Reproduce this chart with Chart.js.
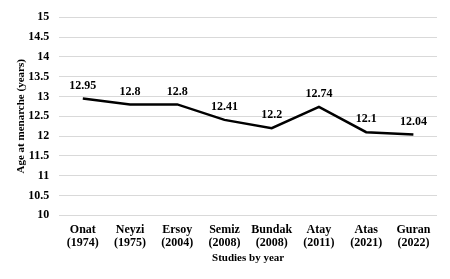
<!DOCTYPE html>
<html>
<head>
<meta charset="utf-8">
<script src="https://cdn.jsdelivr.net/npm/chart.js@4/dist/chart.umd.min.js"></script>
<style>
  html, body { margin: 0; padding: 0; background: #fff; }
  #wrap { width: 450px; height: 279px; }
</style>
</head>
<body>
<div id="wrap"><canvas id="chart"></canvas></div>
<script>
const categories = [['Onat', '(1974)'], ['Neyzi', '(1975)'], ['Ersoy', '(2004)'], ['Semiz', '(2008)'],
  ['Bundak', '(2008)'], ['Atay', '(2011)'], ['Atas', '(2021)'], ['Guran', '(2022)']];
const ages = [12.95, 12.8, 12.8, 12.41, 12.2, 12.74, 12.1, 12.04];
const yMin = 10, yMax = 15, yStep = 0.5;

const FONT = "'Liberation Serif', 'Times New Roman', serif";

// draw the value labels above each point
const valueLabels = {
  id: 'valueLabels',
  afterDatasetsDraw(chart) {
    const ctx = chart.ctx;
    const meta = chart.getDatasetMeta(0);
    ctx.save();
    ctx.font = 'bold 12px ' + FONT;
    ctx.fillStyle = '#000';
    ctx.textAlign = 'center';
    ctx.textBaseline = 'bottom';
    meta.data.forEach((pt, i) => {
      ctx.fillText(String(ages[i]), pt.x, pt.y - 7);
    });
    ctx.restore();
  }
};

new Chart(document.getElementById('chart').getContext('2d'), {
  type: 'line',
  data: {
    labels: categories,
    datasets: [{
      data: ages,
      borderColor: '#000',
      borderWidth: 2.5,
      pointRadius: 0,
      tension: 0,
      fill: false
    }]
  },
  options: {
    responsive: true,
    maintainAspectRatio: false,
    animation: false,
    layout: { padding: { top: 6, right: 13, left: 15, bottom: 14 } },
    plugins: { legend: { display: false }, tooltip: { enabled: false } },
    scales: {
      x: {
        offset: true,
        grid: { display: false, drawTicks: false, offset: true },
        border: { display: false },
        ticks: { color: '#000', font: { family: FONT, size: 12, weight: 'bold', lineHeight: 1.1 }, padding: 8, maxRotation: 0 },
        title: { display: true, text: 'Studies by year', color: '#000', font: { family: FONT, size: 11, weight: 'bold' }, padding: { top: -6, bottom: 0 } }
      },
      y: {
        min: yMin, max: yMax,
        grid: { color: '#d9d9d9', lineWidth: 1, drawTicks: false },
        border: { display: false },
        ticks: { stepSize: yStep, color: '#000', font: { family: FONT, size: 12, weight: 'bold' }, padding: 10,
          callback: v => String(Math.round(v * 10) / 10) },
        title: { display: true, text: 'Age at menarche (years)', color: '#000', font: { family: FONT, size: 11, weight: 'bold' }, padding: { top: 0, bottom: -10 } }
      }
    }
  },
  plugins: [valueLabels]
});
</script>
</body>
</html>
